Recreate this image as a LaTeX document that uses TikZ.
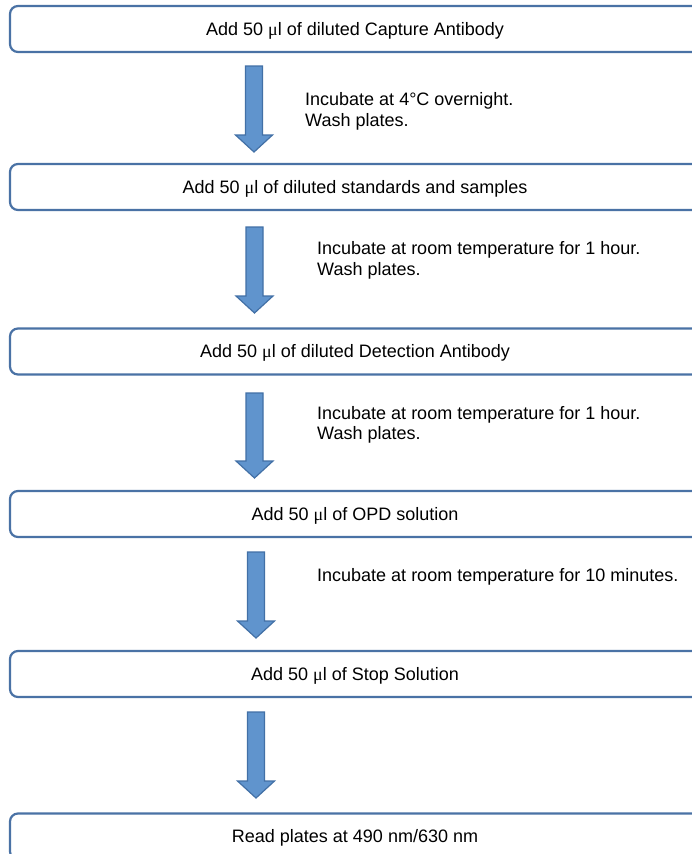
\documentclass[tikz,border=0pt]{standalone}
\usepackage{fontspec}
\setmainfont{Liberation Sans}
\newfontfamily\mufont{Liberation Serif}
\usetikzlibrary{calc}
\definecolor{boxline}{RGB}{74,114,165}
\definecolor{arrfill}{RGB}{96,148,205}
\definecolor{arrline}{RGB}{66,112,166}
\newcommand\mul{{\mufont μ}l}
\newcommand\blockarr[2]{\draw[arrstyle] let \p1=(#1), \p2=(#2) in
  (\x1-8.5pt,\y1) -- (\x1+8.5pt,\y1) -- (\x1+8.5pt,\y2+17pt) -- (\x1+18.5pt,\y2+17pt)
  -- (\x1,\y2) -- (\x1-18.5pt,\y2+17pt) -- (\x1-8.5pt,\y2+17pt) -- cycle;}
\begin{document}
\begin{tikzpicture}[x=1pt,y=-1pt,
  stepbox/.style={draw=boxline, line width=2.2pt, rounded corners=8pt,
    minimum width=690pt, minimum height=46pt, inner sep=0pt,
    text height=12.9pt, text depth=0pt, font=\fontsize{18}{20}\selectfont},
  note/.style={anchor=base west, align=left, inner sep=0pt,
    font=\fontsize{18}{20.5}\selectfont},
  arrstyle/.style={fill=arrfill, draw=arrline, line width=1.2pt, line join=miter}]
\clip (0,0) rectangle (692,854);
\fill[white] (0,0) rectangle (692,854);
\node[stepbox] (b1) at (355,29) {Add 50 \mul{} of diluted Capture Antibody};
\node[stepbox] (b2) at (355,187) {Add 50 \mul{} of diluted standards and samples};
\node[stepbox] (b3) at (355,351.5) {Add 50 \mul{} of diluted Detection Antibody};
\node[stepbox] (b4) at (355,514) {Add 50 \mul{} of OPD solution};
\node[stepbox] (b5) at (355,674) {Add 50 \mul{} of Stop Solution};
\node[stepbox] (b6) at (355,836.5) {Read plates at 490 nm/630 nm};
\coordinate (a1s) at (254,66);    \coordinate (a1e) at (254,152);
\coordinate (a2s) at (254.5,227); \coordinate (a2e) at (254.5,313);
\coordinate (a3s) at (254.5,393); \coordinate (a3e) at (254.5,478);
\coordinate (a4s) at (256,552);   \coordinate (a4e) at (256,638);
\coordinate (a5s) at (256,712);   \coordinate (a5e) at (256,798);
\blockarr{a1s}{a1e}
\blockarr{a2s}{a2e}
\blockarr{a3s}{a3e}
\blockarr{a4s}{a4e}
\blockarr{a5s}{a5e}
\node[note] (n1) at (305,126) {Incubate at 4°C overnight.\\Wash plates.};
\node[note] (n2) at (317,275) {Incubate at room temperature for 1 hour.\\Wash plates.};
\node[note] (n3) at (317,439.5) {Incubate at room temperature for 1 hour.\\Wash plates.};
\node[note] (n4) at (317,581) {Incubate at room temperature for 10 minutes.};
\end{tikzpicture}
\end{document}
